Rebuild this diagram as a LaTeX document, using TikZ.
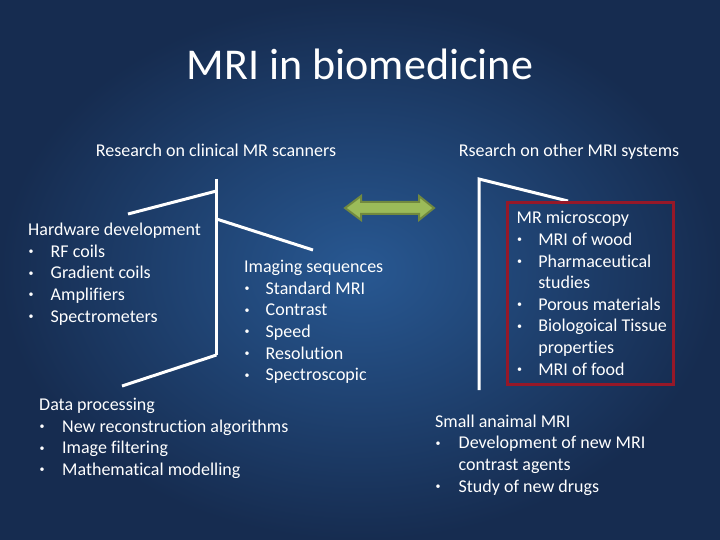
\documentclass[tikz,border=0pt]{standalone}
\usepackage{fontspec}
\setmainfont{Carlito}[Ligatures=NoCommon]
\definecolor{bgin}{RGB}{40,88,146}
\definecolor{bgout}{RGB}{22,44,80}
\definecolor{arrowfill}{RGB}{155,187,89}
\definecolor{arrowedge}{RGB}{113,137,63}
\definecolor{boxred}{RGB}{150,24,40}
\newcommand\mybul[2]{\makebox[#1][l]{\hspace{0.5pt}\raisebox{2.6pt}{\fontsize{10}{10}\selectfont •}}#2}
\begin{document}
\begin{tikzpicture}[x=1pt,y=-1pt,
  body/.style={anchor=base west,inner sep=0pt,text=white,font=\fontsize{18}{21.6}\selectfont},
  head/.style={anchor=base,inner sep=0pt,text=white,font=\fontsize{18}{21.6}\selectfont},
  wline/.style={draw=white,line width=3pt}]
\shade[inner color=bgin,outer color=bgout] (0,0) rectangle (720,540);
\useasboundingbox (0,0) rectangle (720,540);

\node[anchor=base,inner sep=0pt,text=white,font=\fontsize{44}{52}\selectfont] (title) at (360,80) {MRI in biomedicine};
\node[head] (h1) at (216,156.7) {Research on clinical MR scanners};
\node[head] (h2) at (569,156.7) {Rsearch on other MRI systems};

% white lines
\draw[wline] (216.5,179) -- (216.5,355);
\draw[wline] (216.5,191) -- (128,214);
\draw[wline] (216.5,219) -- (313,250);
\draw[wline] (216.5,355) -- (122,386);
\draw[wline] (479,390) -- (479,179) -- (568,201);

% red box
\draw[draw=boxred,line width=3pt] (507,203) rectangle (673,384);

% double arrow
\filldraw[fill=arrowfill,draw=arrowedge,line width=2pt,line join=miter]
  (345,208) -- (361,196) -- (361,202) -- (419,202) -- (419,196) -- (434,208)
  -- (419,220) -- (419,214) -- (361,214) -- (361,220) -- cycle;

\node[body] (hw) at (28,235.7) {\begin{tabular}[t]{@{}l@{}}
Hardware development\\
\mybul{22.5pt}{RF coils}\\
\mybul{22.5pt}{Gradient coils}\\
\mybul{22.5pt}{Amplifiers}\\
\mybul{22.5pt}{Spectrometers}
\end{tabular}};

\node[body] (img) at (244,272.7) {\begin{tabular}[t]{@{}l@{}}
Imaging sequences\\
\mybul{21.5pt}{Standard MRI}\\
\mybul{21.5pt}{Contrast}\\
\mybul{21.5pt}{Speed}\\
\mybul{21.5pt}{Resolution}\\
\mybul{21.5pt}{Spectroscopic}
\end{tabular}};

\node[body] (dp) at (39,410.7) {\begin{tabular}[t]{@{}l@{}}
Data processing\\
\mybul{23pt}{New reconstruction algorithms}\\
\mybul{23pt}{Image filtering}\\
\mybul{23pt}{Mathematical modelling}
\end{tabular}};

\node[body] (mr) at (516.5,224) {\begin{tabular}[t]{@{}l@{}}
MR microscopy\\
\mybul{21.6pt}{MRI of wood}\\
\mybul{21.6pt}{Pharmaceutical}\\
\hspace*{21.6pt}studies\\
\mybul{21.6pt}{Porous materials}\\
\mybul{21.6pt}{Biologoical Tissue}\\
\hspace*{21.6pt}properties\\
\mybul{21.6pt}{MRI of food}
\end{tabular}};

\node[body] (sa) at (435,427.3) {\begin{tabular}[t]{@{}l@{}}
Small anaimal MRI\\
\mybul{23.5pt}{Development of new MRI}\\
\hspace*{23.5pt}contrast agents\\
\mybul{23.5pt}{Study of new drugs}
\end{tabular}};
\end{tikzpicture}
\end{document}
